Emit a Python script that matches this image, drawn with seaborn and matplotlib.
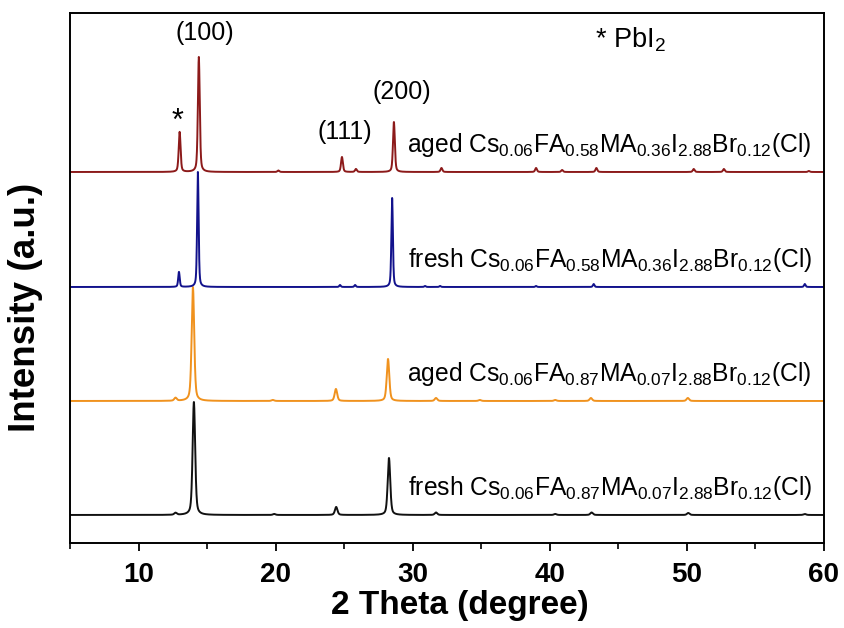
import numpy as np
import pandas as pd
import matplotlib
matplotlib.use("Agg")
import matplotlib.pyplot as plt
from matplotlib.ticker import MultipleLocator
import seaborn as sns

# ---- diffraction peaks (2-theta position, height, in plot units) ----
fresh_087_pos = [12.7, 14.04, 19.9, 24.42, 28.27, 31.7, 40.4, 43.05, 50.1, 58.6]
fresh_087_hgt = [2, 113, 1, 8, 57, 2.5, 1, 2.5, 2, 1]

aged_087_pos = [12.7, 13.97, 19.8, 24.4, 28.2, 31.7, 34.9, 40.4, 43.0, 50.07]
aged_087_hgt = [3, 114, 1, 12, 42, 3, 1, 1, 3, 3]

fresh_058_pos = [12.95, 14.33, 24.7, 25.8, 28.5, 30.9, 32.0, 39.0, 43.2, 58.6]
fresh_058_hgt = [15, 115, 2, 2, 89, 1, 1, 1, 3, 3]

aged_058_pos = [13.0, 14.4, 20.2, 24.84, 25.86, 28.63, 32.1, 39.0, 40.9, 43.4,
                50.5, 52.7, 58.9]
aged_058_hgt = [40, 115, 1.5, 15, 3, 50, 4, 4, 2, 4, 3, 3, 1]

# vertical offsets for the stacked patterns and peak widths (FWHM, degree)
samples = ["fresh_087", "aged_087", "fresh_058", "aged_058"]
offsets = [28, 142, 256, 371]
fwhm = [0.22, 0.22, 0.13, 0.16]
colors = ["#111111", "#F0921E", "#12128C", "#8C1A1A"]

labels = [
    r"fresh Cs$_{0.06}$FA$_{0.87}$MA$_{0.07}$I$_{2.88}$Br$_{0.12}$(Cl)",
    r"aged Cs$_{0.06}$FA$_{0.87}$MA$_{0.07}$I$_{2.88}$Br$_{0.12}$(Cl)",
    r"fresh Cs$_{0.06}$FA$_{0.58}$MA$_{0.36}$I$_{2.88}$Br$_{0.12}$(Cl)",
    r"aged Cs$_{0.06}$FA$_{0.58}$MA$_{0.36}$I$_{2.88}$Br$_{0.12}$(Cl)",
]

peak_sets = [
    (fresh_087_pos, fresh_087_hgt),
    (aged_087_pos, aged_087_hgt),
    (fresh_058_pos, fresh_058_hgt),
    (aged_058_pos, aged_058_hgt),
]

two_theta = np.arange(5.0, 60.0001, 0.01)


def pseudo_voigt(x, center, height, w, eta=0.45):
    g = np.exp(-4 * np.log(2) * ((x - center) / w) ** 2)
    lor = 1.0 / (1.0 + 4 * ((x - center) / w) ** 2)
    return height * (eta * lor + (1 - eta) * g)


frames = []
for name, (pos, hgt), off, w in zip(samples, peak_sets, offsets, fwhm):
    y = np.full_like(two_theta, float(off))
    for p, h in zip(pos, hgt):
        y += pseudo_voigt(two_theta, p, h, w)
    frames.append(pd.DataFrame({"two_theta": two_theta, "intensity": y,
                                "sample": name}))
df = pd.concat(frames, ignore_index=True)

# ---- style ----
sns.set_style("ticks")
plt.rcParams["font.family"] = ["Liberation Sans", "DejaVu Sans"]
plt.rcParams["mathtext.fontset"] = "custom"
plt.rcParams["mathtext.rm"] = "Liberation Sans"
plt.rcParams["mathtext.it"] = "Liberation Sans:italic"
plt.rcParams["mathtext.bf"] = "Liberation Sans:bold"
plt.rcParams["text.color"] = "black"
plt.rcParams["axes.labelcolor"] = "black"
plt.rcParams["xtick.color"] = "black"
plt.rcParams["ytick.color"] = "black"

fig = plt.figure(figsize=(8.45, 6.28), dpi=100)
ax = fig.add_axes([0.0828, 0.1354, 0.8923, 0.8439])

sns.lineplot(data=df, x="two_theta", y="intensity", hue="sample",
             hue_order=samples, palette=dict(zip(samples, colors)),
             estimator=None, legend=False, linewidth=1.4, ax=ax)

ax.set_xlim(5, 60)
ax.set_ylim(0, 530)

for off, lab in zip(offsets, labels):
    ax.text(59.1, off + 20, lab, ha="right", va="baseline", fontsize=17.7,
            color="black")

ann_kw = dict(ha="center", va="center", fontsize=18, color="black")
ax.text(14.85, 510, "(100)", **ann_kw)
ax.text(25.06, 411, "(111)", **ann_kw)
ax.text(29.2, 451, "(200)", **ann_kw)
ax.text(12.88, 421, "*", ha="center", va="center", fontsize=22,
        color="black")
ax.text(45.9, 503, r"* PbI$_2$", ha="center", va="center", fontsize=19.5,
        color="black")

# ---- axes ----
ax.xaxis.set_major_locator(MultipleLocator(10))
ax.xaxis.set_minor_locator(MultipleLocator(5))
ax.tick_params(axis="x", which="major", direction="out", length=6, width=1.3,
               pad=8, labelsize=20, top=False)
ax.tick_params(axis="x", which="minor", direction="out", length=4, width=1.2,
               top=False)
for t in ax.get_xticklabels():
    t.set_fontweight("bold")
ax.set_yticks([])
for s in ax.spines.values():
    s.set_visible(True)
    s.set_linewidth(1.4)
    s.set_color("black")

ax.set_xlabel("2 Theta (degree)", fontsize=24, fontweight="bold")
ax.set_ylabel("Intensity (a.u.)", fontsize=26.5, fontweight="bold")
ax.xaxis.set_label_coords(0.517, -0.088)
ax.yaxis.set_label_coords(-0.036, 0.445)

fig.savefig("out.png", dpi=100)
